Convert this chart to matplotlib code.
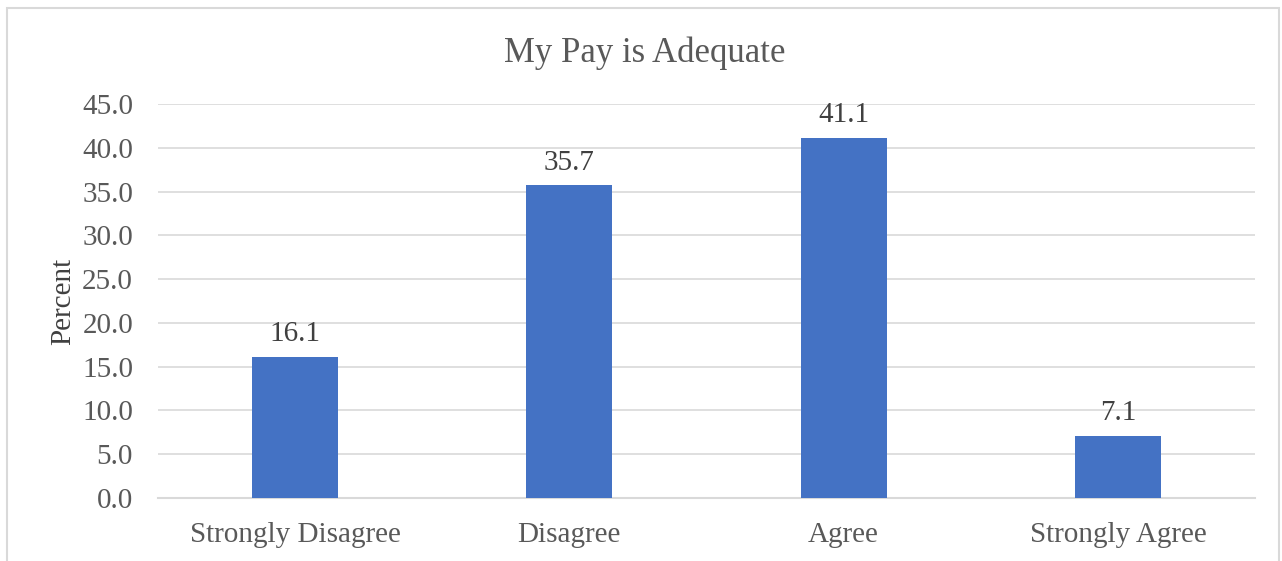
import matplotlib.pyplot as plt
from matplotlib.patches import Rectangle
import numpy as np

categories = ['Strongly Disagree', 'Disagree', 'Agree', 'Strongly Agree']
percent = [16.1, 35.7, 41.1, 7.1]
yticks = np.arange(0, 50, 5)

plt.rcParams['font.family'] = ['Liberation Serif', 'DejaVu Serif']
txt = '#595959'

fig = plt.figure(figsize=(12.82, 5.61), dpi=100)
ax = fig.add_axes([158 / 1282, 1 - 498 / 561, 1097 / 1282, 394 / 561])

x = np.arange(len(categories))
ax.bar(x, percent, width=0.314, color='#4472C4', zorder=3)
for xi, v in zip(x, percent):
    ax.annotate(f'{v:.1f}', (xi, v), xytext=(0, 7), textcoords='offset points',
                ha='center', va='bottom', fontsize=21, color='#404040')

ax.set_xlim(-0.5, 3.5)
ax.set_ylim(0, 45)
ax.set_yticks(yticks)
ax.set_yticklabels([f'{t:.1f}' for t in yticks])
ax.set_xticks(x)
ax.set_xticklabels(categories)
ax.tick_params(axis='both', length=0, labelsize=21, labelcolor=txt)
ax.tick_params(axis='x', pad=17)
ax.tick_params(axis='y', pad=18)
ax.yaxis.grid(True, color='#D9D9D9', linewidth=1.2, zorder=0)
for s in ['top', 'right', 'left']:
    ax.spines[s].set_visible(False)
ax.spines['bottom'].set_color('#D9D9D9')
ax.spines['bottom'].set_linewidth(1.5)

ax.set_ylabel('Percent', fontsize=21, color='#404040', labelpad=4)
fig.text(645 / 1282, 1 - 53 / 561, 'My Pay is Adequate', ha='center', va='center',
         fontsize=25, color=txt)

fig.patches.append(Rectangle((7 / 1282, -0.01), 1272 / 1282, 1 - 8 / 561 + 0.01,
                             transform=fig.transFigure, fill=False,
                             edgecolor='#D9D9D9', linewidth=1.5))

fig.savefig('out.png', dpi=100)
